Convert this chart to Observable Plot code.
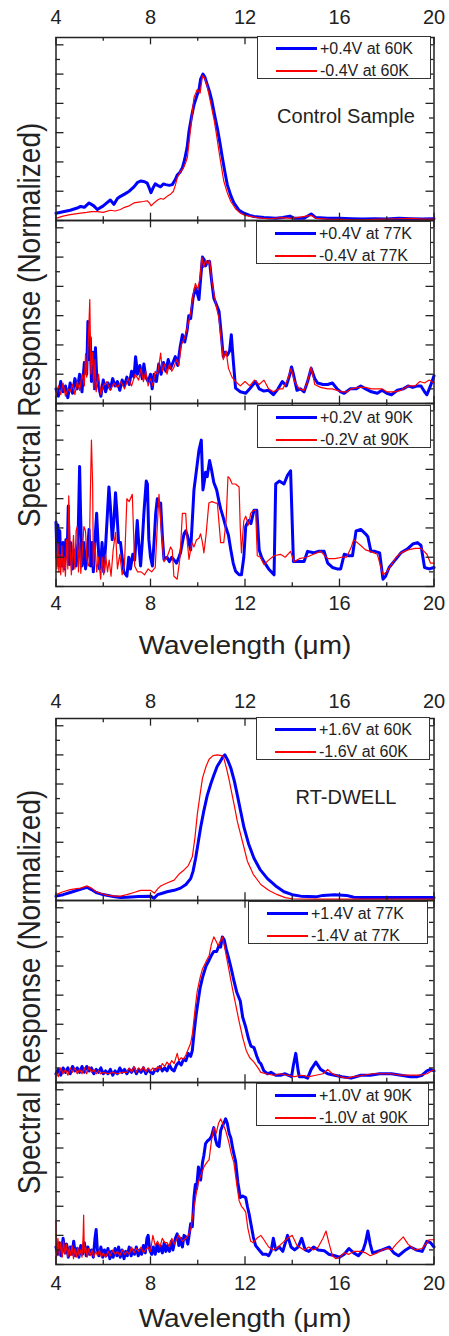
<!DOCTYPE html>
<html><head><meta charset="utf-8">
<script src="https://cdn.jsdelivr.net/npm/d3@7"></script>
<script src="https://cdn.jsdelivr.net/npm/@observablehq/plot@0.6"></script>
<style>
body{margin:0;background:#fff;}
#page{position:relative;width:449px;height:1336px;overflow:hidden;font-family:"Liberation Sans",Arial,sans-serif;color:#222;background:#fff;}
.fig{position:absolute;left:0;}
.ytitle{position:absolute;white-space:nowrap;font-size:28px;line-height:1;}
.xtitle{position:absolute;white-space:nowrap;font-size:25px;line-height:1;}
.note{position:absolute;white-space:nowrap;font-size:20px;line-height:1;}
.leg{position:absolute;box-sizing:border-box;border:1px solid #333;background:#fff;}
.leg .ln{position:absolute;}
.leg .tx{position:absolute;white-space:nowrap;font-size:16px;line-height:1;}
</style></head>
<body><div id="page"></div>
<script>
// ---------- data (wavelength µm, normalized response) ----------
const ctrl60Pos=[[4.0,0.05],[4.3,0.06],[4.6,0.07],[4.9,0.085],[5.04,0.096],[5.2,0.09],[5.4,0.12],[5.6,0.1],[5.75,0.075],[6.0,0.1],[6.15,0.12],[6.3,0.14],[6.45,0.11],[6.6,0.15],[6.73,0.165],[6.9,0.18],[7.1,0.2],[7.3,0.23],[7.45,0.26],[7.6,0.27],[7.75,0.265],[7.86,0.255],[7.95,0.22],[8.02,0.19],[8.1,0.22],[8.2,0.25],[8.3,0.24],[8.43,0.23],[8.55,0.25],[8.64,0.245],[8.8,0.24],[8.92,0.245],[9.05,0.28],[9.13,0.31],[9.25,0.33],[9.35,0.36],[9.45,0.42],[9.55,0.5],[9.63,0.61],[9.75,0.72],[9.84,0.79],[9.98,0.86],[10.06,0.9],[10.12,0.965],[10.22,1.0],[10.3,0.98],[10.4,0.93],[10.5,0.88],[10.6,0.815],[10.7,0.73],[10.83,0.63],[10.95,0.52],[11.04,0.43],[11.15,0.33],[11.25,0.245],[11.4,0.17],[11.53,0.12],[11.75,0.07],[11.96,0.05],[12.2,0.035],[12.38,0.027],[12.8,0.02],[13.3,0.015],[13.6,0.02],[13.9,0.03],[14.1,0.015],[14.5,0.015],[14.8,0.045],[15.0,0.02],[15.5,0.015],[16,0.015],[16.5,0.012],[17,0.01],[17.5,0.012],[18,0.01],[18.5,0.015],[19,0.012],[19.5,0.01],[20,0.012]];
const ctrl60Neg=[[4.0,0.015],[4.3,0.03],[4.6,0.04],[5.04,0.05],[5.3,0.055],[5.5,0.06],[5.75,0.06],[6.0,0.055],[6.3,0.07],[6.5,0.065],[6.73,0.075],[6.9,0.09],[7.1,0.1],[7.3,0.12],[7.5,0.125],[7.7,0.13],[7.86,0.135],[7.95,0.12],[8.03,0.1],[8.15,0.12],[8.3,0.14],[8.43,0.15],[8.55,0.145],[8.7,0.165],[8.85,0.18],[8.97,0.2],[9.05,0.24],[9.13,0.29],[9.25,0.33],[9.4,0.36],[9.5,0.4],[9.56,0.43],[9.63,0.53],[9.7,0.63],[9.77,0.74],[9.84,0.84],[9.98,0.895],[10.1,0.87],[10.2,0.99],[10.3,0.97],[10.4,0.92],[10.5,0.84],[10.6,0.76],[10.7,0.68],[10.8,0.58],[10.9,0.47],[11.0,0.37],[11.1,0.27],[11.25,0.19],[11.4,0.13],[11.6,0.08],[11.8,0.05],[12.0,0.035],[12.5,0.02],[13,0.012],[13.6,0.02],[13.9,0.015],[14.2,0.02],[14.8,0.035],[15.0,0.015],[15.5,0.01],[16,0.008],[16.5,0.005],[17,0.005],[17.5,0.008],[18,0.01],[18.5,0.012],[19,0.015],[19.5,0.01],[20,0.01]];
const ctrl77Pos=[[4.0,0.1],[4.1,0.05],[4.2,0.15],[4.3,0.08],[4.4,0.12],[4.5,0.04],[4.6,0.14],[4.7,0.07],[4.8,0.17],[4.9,0.1],[5.0,0.2],[5.1,0.08],[5.2,0.28],[5.3,0.2],[5.35,0.56],[5.4,0.3],[5.45,0.45],[5.5,0.15],[5.57,0.35],[5.63,0.1],[5.67,0.38],[5.72,0.2],[5.8,0.12],[5.9,0.05],[6.0,0.16],[6.1,0.08],[6.2,0.14],[6.3,0.1],[6.4,0.17],[6.5,0.12],[6.6,0.15],[6.7,0.09],[6.8,0.16],[6.9,0.12],[7.0,0.18],[7.1,0.13],[7.2,0.22],[7.3,0.18],[7.37,0.32],[7.45,0.2],[7.55,0.26],[7.65,0.17],[7.72,0.27],[7.8,0.18],[7.9,0.15],[8.0,0.2],[8.07,0.1],[8.15,0.2],[8.25,0.15],[8.35,0.27],[8.45,0.2],[8.55,0.28],[8.65,0.22],[8.75,0.3],[8.85,0.24],[8.95,0.28],[9.05,0.32],[9.15,0.26],[9.25,0.38],[9.35,0.47],[9.45,0.42],[9.55,0.5],[9.62,0.6],[9.7,0.58],[9.8,0.72],[9.9,0.79],[9.97,0.76],[10.05,0.71],[10.12,0.85],[10.2,1.0],[10.28,0.98],[10.33,0.94],[10.42,0.97],[10.5,0.97],[10.58,0.85],[10.68,0.72],[10.78,0.68],[10.9,0.63],[10.98,0.5],[11.08,0.32],[11.17,0.35],[11.25,0.33],[11.35,0.36],[11.42,0.47],[11.5,0.3],[11.6,0.105],[11.8,0.08],[12.03,0.07],[12.2,0.1],[12.3,0.12],[12.45,0.15],[12.6,0.1],[12.8,0.085],[13.0,0.09],[13.2,0.06],[13.4,0.1],[13.58,0.15],[13.75,0.12],[13.9,0.2],[13.97,0.25],[14.05,0.2],[14.2,0.09],[14.35,0.1],[14.5,0.08],[14.65,0.15],[14.8,0.24],[14.95,0.17],[15.07,0.14],[15.3,0.13],[15.5,0.13],[15.7,0.14],[15.9,0.1],[16.05,0.08],[16.2,0.07],[16.45,0.1],[16.7,0.1],[16.9,0.12],[17.1,0.1],[17.35,0.08],[17.6,0.07],[17.8,0.09],[18.0,0.07],[18.2,0.06],[18.45,0.09],[18.7,0.1],[18.9,0.12],[19.1,0.11],[19.3,0.12],[19.45,0.12],[19.6,0.08],[19.7,0.06],[19.85,0.12],[20,0.19]];
const ctrl77Neg=[[4.0,0.05],[4.1,0.12],[4.2,0.06],[4.3,0.14],[4.4,0.05],[4.5,0.1],[4.6,0.08],[4.7,0.13],[4.8,0.06],[4.9,0.15],[5.0,0.09],[5.1,0.2],[5.2,0.12],[5.25,0.34],[5.3,0.18],[5.38,0.48],[5.43,0.71],[5.48,0.2],[5.55,0.35],[5.6,0.1],[5.65,0.3],[5.7,0.08],[5.8,0.2],[5.9,0.06],[6.0,0.12],[6.15,0.15],[6.3,0.09],[6.45,0.14],[6.6,0.11],[6.75,0.15],[6.9,0.1],[7.05,0.17],[7.2,0.12],[7.35,0.2],[7.5,0.16],[7.6,0.24],[7.7,0.15],[7.8,0.22],[7.9,0.12],[8.0,0.17],[8.1,0.12],[8.2,0.22],[8.3,0.2],[8.43,0.345],[8.5,0.22],[8.6,0.27],[8.7,0.2],[8.8,0.27],[8.9,0.22],[9.0,0.25],[9.1,0.3],[9.2,0.26],[9.3,0.4],[9.4,0.43],[9.5,0.48],[9.6,0.55],[9.7,0.62],[9.8,0.74],[9.9,0.82],[10.0,0.78],[10.1,0.86],[10.17,1.0],[10.25,0.93],[10.33,0.98],[10.42,0.95],[10.5,0.98],[10.6,0.83],[10.7,0.74],[10.8,0.65],[10.9,0.58],[11.0,0.42],[11.08,0.3],[11.2,0.36],[11.3,0.24],[11.45,0.18],[11.6,0.15],[11.8,0.12],[12.0,0.15],[12.2,0.12],[12.4,0.16],[12.6,0.13],[12.8,0.16],[13.0,0.1],[13.2,0.08],[13.45,0.1],[13.6,0.1],[13.8,0.16],[13.95,0.24],[14.1,0.15],[14.3,0.1],[14.5,0.09],[14.65,0.15],[14.8,0.25],[14.95,0.13],[15.2,0.11],[15.5,0.1],[15.7,0.1],[15.9,0.09],[16.1,0.08],[16.3,0.08],[16.5,0.1],[16.8,0.11],[17.1,0.11],[17.35,0.1],[17.6,0.1],[17.8,0.1],[18.0,0.08],[18.3,0.08],[18.6,0.09],[18.9,0.12],[19.2,0.12],[19.4,0.15],[19.6,0.14],[19.8,0.16],[20,0.14]];
const ctrl90Pos=[[4.0,0.44],[4.04,0.2],[4.08,0.42],[4.12,0.14],[4.16,0.38],[4.2,0.16],[4.26,0.14],[4.3,0.3],[4.36,0.12],[4.42,0.32],[4.47,0.2],[4.52,0.55],[4.56,0.15],[4.62,0.3],[4.7,0.12],[4.78,0.25],[4.85,0.14],[4.93,0.3],[4.97,0.6],[5.0,0.82],[5.04,0.5],[5.1,0.14],[5.18,0.3],[5.25,0.12],[5.32,0.22],[5.4,0.39],[5.46,0.14],[5.52,0.3],[5.58,0.1],[5.65,0.32],[5.72,0.5],[5.78,0.3],[5.84,0.12],[5.89,0.14],[5.95,0.3],[6.02,0.1],[6.1,0.28],[6.16,0.45],[6.24,0.68],[6.3,0.55],[6.38,0.32],[6.45,0.45],[6.52,0.64],[6.58,0.5],[6.65,0.3],[6.73,0.3],[6.8,0.2],[6.87,0.1],[7.0,0.07],[7.08,0.2],[7.15,0.12],[7.25,0.22],[7.33,0.18],[7.44,0.45],[7.5,0.3],[7.58,0.14],[7.65,0.3],[7.72,0.5],[7.82,0.72],[7.87,0.7],[7.93,0.32],[8.0,0.2],[8.08,0.14],[8.15,0.3],[8.22,0.5],[8.29,0.6],[8.36,0.55],[8.43,0.57],[8.5,0.35],[8.57,0.185],[8.7,0.2],[8.8,0.17],[8.9,0.2],[8.98,0.185],[9.1,0.16],[9.2,0.2],[9.27,0.23],[9.35,0.3],[9.42,0.36],[9.49,0.38],[9.56,0.35],[9.63,0.3],[9.7,0.25],[9.77,0.45],[9.84,0.66],[9.95,0.8],[10.05,0.93],[10.15,1.0],[10.22,0.66],[10.28,0.72],[10.33,0.78],[10.4,0.75],[10.5,0.86],[10.58,0.8],[10.68,0.71],[10.8,0.66],[10.9,0.58],[10.97,0.53],[11.08,0.47],[11.18,0.41],[11.3,0.35],[11.4,0.25],[11.5,0.16],[11.6,0.105],[11.75,0.08],[11.85,0.08],[11.95,0.2],[12.03,0.41],[12.15,0.45],[12.25,0.43],[12.38,0.52],[12.5,0.52],[12.6,0.25],[12.7,0.2],[12.8,0.17],[13.0,0.12],[13.23,0.08],[13.3,0.7],[13.45,0.72],[13.65,0.7],[13.8,0.76],[13.93,0.79],[14.05,0.17],[14.3,0.17],[14.5,0.17],[14.65,0.24],[14.9,0.23],[15.1,0.24],[15.35,0.24],[15.5,0.16],[15.7,0.13],[15.9,0.12],[16.05,0.12],[16.2,0.22],[16.4,0.21],[16.55,0.21],[16.7,0.38],[16.9,0.39],[17.1,0.36],[17.2,0.34],[17.33,0.24],[17.5,0.24],[17.7,0.23],[17.84,0.05],[17.95,0.07],[18.1,0.13],[18.3,0.17],[18.6,0.23],[18.9,0.26],[19.1,0.29],[19.3,0.3],[19.45,0.28],[19.6,0.13],[19.8,0.12],[20,0.13]];
const ctrl90Neg=[[4.0,0.23],[4.04,0.12],[4.08,0.3],[4.12,0.1],[4.16,0.22],[4.2,0.08],[4.25,0.28],[4.3,0.1],[4.35,0.2],[4.4,0.07],[4.45,0.32],[4.5,0.12],[4.54,0.62],[4.6,0.25],[4.65,0.08],[4.69,0.2],[4.74,0.35],[4.8,0.12],[4.85,0.38],[4.9,0.41],[4.95,0.1],[5.0,0.3],[5.05,0.09],[5.12,0.25],[5.18,0.41],[5.25,0.38],[5.3,0.2],[5.36,0.14],[5.4,0.15],[5.45,0.6],[5.5,1.0],[5.55,0.7],[5.58,0.14],[5.65,0.3],[5.72,0.1],[5.8,0.2],[5.89,0.05],[5.95,0.2],[6.02,0.08],[6.1,0.22],[6.18,0.1],[6.25,0.18],[6.33,0.07],[6.42,0.25],[6.52,0.37],[6.6,0.12],[6.7,0.22],[6.8,0.08],[6.9,0.15],[7.0,0.6],[7.1,0.58],[7.23,0.63],[7.33,0.14],[7.45,0.1],[7.6,0.1],[7.75,0.08],[7.9,0.12],[8.05,0.1],[8.2,0.13],[8.3,0.45],[8.36,0.63],[8.45,0.4],[8.57,0.17],[8.7,0.2],[8.85,0.27],[8.92,0.25],[8.99,0.07],[9.13,0.05],[9.25,0.2],[9.35,0.5],[9.49,0.5],[9.56,0.3],[9.63,0.185],[9.75,0.3],[9.84,0.27],[9.95,0.32],[10.05,0.33],[10.12,0.36],[10.2,0.3],[10.26,0.23],[10.35,0.35],[10.47,0.57],[10.6,0.58],[10.75,0.57],[10.83,0.57],[10.97,0.3],[11.1,0.3],[11.2,0.45],[11.28,0.75],[11.35,0.74],[11.46,0.7],[11.6,0.7],[11.75,0.68],[11.8,0.4],[11.85,0.23],[11.95,0.45],[12.03,0.48],[12.15,0.42],[12.24,0.5],[12.35,0.52],[12.45,0.52],[12.52,0.21],[12.65,0.2],[12.8,0.15],[13.0,0.18],[13.23,0.21],[13.5,0.22],[13.7,0.2],[13.93,0.24],[14.07,0.17],[14.3,0.19],[14.6,0.2],[14.9,0.22],[15.2,0.24],[15.5,0.19],[15.8,0.19],[16.1,0.2],[16.3,0.2],[16.5,0.27],[16.6,0.32],[16.9,0.28],[17.1,0.25],[17.3,0.24],[17.6,0.22],[17.84,0.08],[18.0,0.1],[18.2,0.15],[18.4,0.2],[18.6,0.23],[18.9,0.25],[19.2,0.26],[19.45,0.26],[19.7,0.22],[19.85,0.16],[20,0.16]];
const rt60Pos=[[4.0,0.03],[4.3,0.04],[4.6,0.055],[4.9,0.07],[5.1,0.08],[5.32,0.09],[5.5,0.075],[5.7,0.055],[5.89,0.045],[6.2,0.035],[6.5,0.025],[6.73,0.02],[7.0,0.022],[7.5,0.028],[8.0,0.03],[8.15,0.015],[8.3,0.04],[8.5,0.05],[8.7,0.06],[9.0,0.07],[9.27,0.085],[9.5,0.11],[9.7,0.15],[9.8,0.2],[9.91,0.29],[10.0,0.38],[10.12,0.5],[10.25,0.61],[10.4,0.72],[10.55,0.8],[10.68,0.86],[10.82,0.92],[10.97,0.96],[11.08,0.99],[11.15,1.0],[11.28,0.96],[11.4,0.91],[11.55,0.82],[11.68,0.72],[11.82,0.61],[11.96,0.5],[12.15,0.39],[12.38,0.29],[12.65,0.21],[12.95,0.15],[13.3,0.1],[13.65,0.06],[14.0,0.04],[14.36,0.03],[15.0,0.025],[15.3,0.035],[15.8,0.04],[16.3,0.035],[16.6,0.022],[17,0.02],[18,0.02],[19,0.02],[20,0.02]];
const rt60Neg=[[4.0,0.04],[4.3,0.06],[4.6,0.075],[4.8,0.08],[5.04,0.085],[5.32,0.1],[5.5,0.085],[5.7,0.06],[5.89,0.05],[6.2,0.035],[6.5,0.03],[6.73,0.03],[7.0,0.04],[7.3,0.055],[7.58,0.07],[7.8,0.07],[8.0,0.07],[8.17,0.05],[8.3,0.08],[8.43,0.1],[8.7,0.12],[9.0,0.14],[9.2,0.18],[9.42,0.21],[9.6,0.24],[9.77,0.3],[9.88,0.43],[9.98,0.59],[10.1,0.73],[10.2,0.84],[10.35,0.92],[10.48,0.97],[10.65,0.995],[10.83,1.0],[11.0,0.995],[11.08,0.99],[11.2,0.92],[11.3,0.85],[11.4,0.77],[11.55,0.65],[11.68,0.54],[11.9,0.4],[12.1,0.27],[12.35,0.18],[12.67,0.11],[13.0,0.07],[13.37,0.04],[13.7,0.02],[14.0,0.012],[15,0.01],[16,0.01],[17,0.01],[18,0.01],[19,0.01],[20,0.01]];
const rt77Pos=[[4.0,0.06],[4.1,0.09],[4.2,0.05],[4.3,0.1],[4.4,0.07],[4.5,0.1],[4.6,0.06],[4.7,0.11],[4.8,0.08],[4.9,0.1],[5.0,0.07],[5.1,0.11],[5.2,0.07],[5.3,0.11],[5.4,0.08],[5.5,0.1],[5.6,0.06],[5.7,0.09],[5.8,0.07],[5.9,0.1],[6.0,0.06],[6.1,0.08],[6.2,0.06],[6.3,0.09],[6.4,0.05],[6.5,0.08],[6.6,0.06],[6.7,0.1],[6.8,0.07],[6.9,0.09],[7.0,0.06],[7.1,0.09],[7.2,0.07],[7.3,0.1],[7.4,0.06],[7.5,0.09],[7.6,0.07],[7.7,0.1],[7.8,0.06],[7.9,0.09],[8.0,0.07],[8.1,0.06],[8.2,0.09],[8.3,0.08],[8.4,0.11],[8.5,0.08],[8.6,0.1],[8.7,0.08],[8.8,0.12],[8.9,0.09],[9.0,0.08],[9.1,0.12],[9.2,0.14],[9.3,0.12],[9.4,0.16],[9.5,0.15],[9.6,0.2],[9.7,0.18],[9.77,0.22],[9.85,0.35],[9.92,0.45],[9.98,0.52],[10.1,0.65],[10.2,0.72],[10.35,0.8],[10.48,0.84],[10.6,0.88],[10.68,0.9],[10.8,0.9],[10.9,0.94],[10.97,0.93],[11.04,1.0],[11.12,0.98],[11.2,0.92],[11.3,0.86],[11.42,0.78],[11.53,0.7],[11.65,0.62],[11.8,0.56],[11.9,0.45],[12.03,0.38],[12.15,0.3],[12.25,0.25],[12.38,0.24],[12.5,0.18],[12.6,0.14],[12.67,0.13],[12.8,0.08],[12.95,0.06],[13.1,0.07],[13.3,0.05],[13.5,0.05],[13.7,0.06],[13.97,0.04],[14.05,0.12],[14.15,0.2],[14.25,0.08],[14.3,0.04],[14.5,0.04],[14.65,0.03],[14.8,0.09],[15.0,0.14],[15.2,0.09],[15.5,0.06],[15.8,0.05],[16.1,0.04],[16.5,0.03],[16.9,0.05],[17.3,0.05],[17.7,0.06],[18.2,0.06],[18.6,0.05],[19.0,0.04],[19.3,0.04],[19.5,0.05],[19.7,0.08],[19.85,0.09],[20,0.08]];
const rt77Neg=[[4.0,0.07],[4.1,0.04],[4.2,0.1],[4.3,0.06],[4.4,0.09],[4.5,0.05],[4.6,0.1],[4.7,0.07],[4.8,0.1],[4.9,0.06],[5.0,0.09],[5.1,0.06],[5.2,0.1],[5.3,0.06],[5.4,0.11],[5.5,0.07],[5.6,0.09],[5.7,0.06],[5.8,0.08],[5.9,0.06],[6.0,0.07],[6.2,0.06],[6.4,0.07],[6.6,0.06],[6.8,0.07],[7.0,0.07],[7.1,0.1],[7.2,0.07],[7.3,0.11],[7.4,0.07],[7.5,0.1],[7.6,0.08],[7.7,0.11],[7.8,0.07],[7.9,0.1],[8.0,0.08],[8.1,0.1],[8.2,0.08],[8.3,0.11],[8.4,0.09],[8.5,0.13],[8.6,0.11],[8.7,0.14],[8.8,0.12],[8.9,0.15],[9.0,0.13],[9.13,0.2],[9.2,0.15],[9.3,0.17],[9.4,0.16],[9.5,0.19],[9.6,0.23],[9.7,0.27],[9.77,0.33],[9.85,0.45],[9.92,0.55],[9.98,0.63],[10.1,0.72],[10.2,0.78],[10.35,0.83],[10.48,0.87],[10.58,0.95],[10.68,1.0],[10.78,0.97],[10.86,0.94],[10.95,0.97],[11.04,1.0],[11.15,0.92],[11.3,0.79],[11.45,0.66],[11.6,0.54],[11.75,0.42],[11.9,0.31],[12.05,0.22],[12.2,0.17],[12.38,0.14],[12.55,0.1],[12.67,0.07],[12.9,0.06],[13.2,0.05],[13.5,0.06],[13.8,0.05],[14.1,0.04],[14.4,0.05],[14.7,0.04],[15.0,0.05],[15.3,0.06],[15.5,0.09],[15.7,0.06],[16.0,0.04],[16.3,0.03],[16.6,0.04],[17.0,0.05],[17.4,0.06],[17.8,0.06],[18.2,0.06],[18.6,0.05],[19.0,0.05],[19.4,0.05],[19.7,0.06],[20,0.09]];
const rt90Pos=[[4.0,0.12],[4.08,0.07],[4.15,0.15],[4.22,0.06],[4.3,0.18],[4.38,0.08],[4.45,0.14],[4.52,0.05],[4.6,0.12],[4.68,0.07],[4.75,0.16],[4.82,0.06],[4.9,0.11],[4.97,0.05],[5.05,0.13],[5.12,0.07],[5.2,0.15],[5.28,0.06],[5.35,0.12],[5.42,0.07],[5.5,0.1],[5.58,0.05],[5.65,0.18],[5.7,0.24],[5.75,0.1],[5.82,0.06],[5.9,0.12],[5.98,0.05],[6.05,0.1],[6.12,0.06],[6.2,0.11],[6.28,0.04],[6.35,0.09],[6.42,0.05],[6.5,0.11],[6.58,0.06],[6.65,0.12],[6.72,0.05],[6.8,0.1],[6.88,0.04],[6.95,0.09],[7.02,0.06],[7.1,0.12],[7.18,0.06],[7.25,0.1],[7.32,0.07],[7.4,0.12],[7.48,0.06],[7.55,0.1],[7.62,0.07],[7.7,0.13],[7.78,0.08],[7.85,0.18],[7.9,0.2],[7.97,0.1],[8.05,0.07],[8.12,0.12],[8.2,0.07],[8.28,0.14],[8.35,0.09],[8.42,0.13],[8.5,0.08],[8.58,0.15],[8.65,0.09],[8.72,0.13],[8.8,0.09],[8.88,0.16],[8.95,0.1],[9.05,0.18],[9.13,0.21],[9.2,0.13],[9.28,0.18],[9.35,0.12],[9.42,0.2],[9.5,0.19],[9.58,0.14],[9.65,0.22],[9.7,0.28],[9.77,0.26],[9.84,0.46],[9.9,0.55],[9.95,0.52],[10.03,0.67],[10.08,0.6],[10.12,0.58],[10.2,0.7],[10.26,0.75],[10.33,0.83],[10.42,0.85],[10.5,0.86],[10.58,0.88],[10.68,0.94],[10.75,0.86],[10.82,0.82],[10.9,0.81],[10.97,0.92],[11.04,0.95],[11.1,0.97],[11.18,1.0],[11.25,0.97],[11.33,0.9],[11.4,0.87],[11.5,0.78],[11.6,0.71],[11.7,0.56],[11.8,0.46],[11.9,0.47],[12.03,0.46],[12.1,0.4],[12.17,0.35],[12.25,0.28],[12.35,0.19],[12.45,0.13],[12.6,0.1],[12.75,0.07],[12.9,0.07],[13.0,0.06],[13.1,0.09],[13.2,0.18],[13.3,0.1],[13.45,0.12],[13.6,0.09],[13.8,0.2],[13.95,0.12],[14.1,0.1],[14.25,0.12],[14.4,0.18],[14.55,0.1],[14.7,0.09],[14.9,0.12],[15.1,0.1],[15.35,0.095],[15.55,0.07],[15.8,0.06],[16.0,0.05],[16.2,0.07],[16.4,0.11],[16.6,0.08],[16.8,0.06],[17.0,0.1],[17.1,0.15],[17.2,0.23],[17.3,0.14],[17.4,0.08],[17.6,0.09],[17.8,0.1],[18.1,0.12],[18.3,0.08],[18.5,0.06],[18.8,0.1],[19.0,0.12],[19.25,0.1],[19.5,0.09],[19.7,0.16],[19.85,0.15],[20,0.12]];
const rt90Neg=[[4.0,0.3],[4.02,0.05],[4.08,0.18],[4.14,0.06],[4.2,0.15],[4.26,0.05],[4.32,0.16],[4.38,0.07],[4.44,0.14],[4.5,0.05],[4.56,0.12],[4.62,0.06],[4.68,0.13],[4.74,0.04],[4.8,0.11],[4.86,0.05],[4.92,0.12],[4.98,0.06],[5.05,0.1],[5.1,0.05],[5.15,0.2],[5.17,0.34],[5.2,0.08],[5.26,0.12],[5.32,0.05],[5.38,0.11],[5.45,0.06],[5.52,0.1],[5.6,0.05],[5.68,0.09],[5.76,0.06],[5.84,0.1],[5.92,0.05],[6.0,0.08],[6.1,0.05],[6.2,0.09],[6.3,0.06],[6.4,0.1],[6.5,0.07],[6.6,0.09],[6.7,0.06],[6.8,0.1],[6.9,0.07],[7.0,0.09],[7.1,0.07],[7.2,0.12],[7.3,0.08],[7.4,0.11],[7.5,0.09],[7.6,0.12],[7.7,0.08],[7.8,0.1],[7.9,0.12],[8.0,0.09],[8.1,0.2],[8.2,0.13],[8.3,0.16],[8.4,0.12],[8.5,0.18],[8.6,0.15],[8.7,0.15],[8.8,0.12],[8.9,0.18],[9.0,0.14],[9.1,0.17],[9.2,0.2],[9.35,0.16],[9.5,0.18],[9.6,0.2],[9.7,0.24],[9.84,0.39],[9.95,0.5],[10.05,0.58],[10.15,0.62],[10.26,0.67],[10.38,0.7],[10.48,0.72],[10.58,0.85],[10.68,0.94],[10.78,0.9],[10.88,0.97],[10.97,1.0],[11.08,0.96],[11.18,0.92],[11.3,0.85],[11.42,0.76],[11.53,0.7],[11.65,0.55],[11.75,0.44],[11.85,0.4],[11.95,0.38],[12.03,0.36],[12.12,0.25],[12.24,0.16],[12.35,0.15],[12.5,0.18],[12.67,0.2],[12.8,0.17],[13.0,0.12],[13.2,0.1],[13.4,0.12],[13.6,0.15],[13.8,0.18],[14.0,0.2],[14.2,0.13],[14.5,0.1],[14.7,0.12],[14.9,0.1],[15.1,0.12],[15.3,0.18],[15.43,0.23],[15.55,0.15],[15.7,0.06],[15.85,0.04],[16.0,0.05],[16.2,0.08],[16.4,0.07],[16.6,0.09],[16.9,0.09],[17.1,0.08],[17.3,0.06],[17.6,0.08],[17.8,0.1],[18.0,0.11],[18.2,0.1],[18.4,0.14],[18.7,0.19],[18.9,0.14],[19.2,0.1],[19.5,0.11],[19.8,0.17],[20,0.17]];

const ctrlLabels=[["+0.4V at 60K","-0.4V at 60K"],["+0.4V at 77K","-0.4V at 77K"],["+0.2V at 90K","-0.2V at 90K"]];
const rtLabels=[["+1.6V at 60K","-1.6V at 60K"],["+1.4V at 77K","-1.4V at 77K"],["+1.0V at 90K","-1.0V at 90K"]];
const xTickLabels=[4,8,12,16,20];
const xMinorTicks=[6,10,14,18];
const yMajorTicks=[0,0.2,0.4,0.6,0.8,1.0,1.2];
const yMinorTicks=[0.1,0.3,0.5,0.7,0.9,1.1];
const xTitle="Wavelength (\u03bcm)";
const yTitle="Spectral Response (Normalized)";

// ---------- layout ----------
const BLUE="#0000ff", RED="#ff0000", INK="#222";
const page=document.getElementById("page");
const W=449, mL=55.5, mR=15.5, innerW=W-mL-mR;

function buildFigure(cfg){
  const panels=["a","b","c"];
  const pos=[], neg=[];
  cfg.series.forEach(([p,n],i)=>{
    p.forEach(([x,y])=>pos.push({panel:panels[i],x,y}));
    n.forEach(([x,y])=>neg.push({panel:panels[i],x,y}));
  });
  const fh=cfg.frameH;
  const plot=Plot.plot({
    width:W, height:cfg.marginTop+3*fh+cfg.marginBottom,
    marginLeft:mL, marginRight:mR, marginTop:cfg.marginTop, marginBottom:cfg.marginBottom,
    x:{domain:[4,20]},
    y:{domain:[0,1.25], axis:null},
    fy:{domain:panels, axis:null, padding:0},
    style:{fontFamily:'"Liberation Sans",Arial,sans-serif', fontSize:"20px", color:INK, background:"transparent", overflow:"visible"},
    marks:[
      Plot.line(pos,{x:"x",y:"y",fy:"panel",stroke:BLUE,strokeWidth:3,strokeLinejoin:"round"}),
      Plot.line(neg,{x:"x",y:"y",fy:"panel",stroke:RED,strokeWidth:1.2,strokeLinejoin:"round"}),
      Plot.tickX(xTickLabels,{x:d=>d,stroke:INK,strokeWidth:1.3,insetBottom:fh-8}),
      Plot.tickX(xTickLabels,{x:d=>d,stroke:INK,strokeWidth:1.3,insetTop:fh-8}),
      Plot.tickX(xMinorTicks,{x:d=>d,stroke:INK,strokeWidth:1.3,insetBottom:fh-4.5}),
      Plot.tickX(xMinorTicks,{x:d=>d,stroke:INK,strokeWidth:1.3,insetTop:fh-4.5}),
      Plot.tickY(yMajorTicks,{y:d=>d,stroke:INK,strokeWidth:1.3,insetRight:innerW-8}),
      Plot.tickY(yMajorTicks,{y:d=>d,stroke:INK,strokeWidth:1.3,insetLeft:innerW-8}),
      Plot.tickY(yMinorTicks,{y:d=>d,stroke:INK,strokeWidth:1.3,insetRight:innerW-4.5}),
      Plot.tickY(yMinorTicks,{y:d=>d,stroke:INK,strokeWidth:1.3,insetLeft:innerW-4.5}),
      Plot.frame({stroke:INK,strokeWidth:1.5}),
      Plot.axisX(xTickLabels,{anchor:"top",tickSize:0,tickPadding:cfg.padTop,label:null,fontSize:20}),
      Plot.axisX(xTickLabels,{anchor:"bottom",tickSize:0,tickPadding:cfg.padBottom,label:null,fontSize:20})
    ]
  });
  const holder=document.createElement("div");
  holder.className="fig";
  holder.style.top=cfg.top+"px";
  holder.appendChild(plot);
  page.appendChild(holder);

  // legends
  cfg.legends.forEach((lg,i)=>{
    const box=document.createElement("div");
    box.className="leg";
    Object.assign(box.style,{left:lg.left+"px",top:lg.top+"px",width:lg.w+"px",height:"43px"});
    [[BLUE,3],[RED,1.3]].forEach(([c,sw],r)=>{
      const ln=document.createElement("div");
      ln.className="ln";
      const cy=r===0?11.5:34;
      Object.assign(ln.style,{left:"18px",width:"41px",top:(cy-sw/2)+"px",height:sw+"px",background:c});
      box.appendChild(ln);
      const tx=document.createElement("div");
      tx.className="tx";
      tx.textContent=cfg.labels[i][r];
      Object.assign(tx.style,{left:"62px",top:(cy-8)+"px"});
      box.appendChild(tx);
    });
    page.appendChild(box);
  });

  const xt=document.createElement("div");
  xt.className="xtitle"; xt.textContent=xTitle;
  Object.assign(xt.style,{left:"244.5px",top:cfg.xTitleY+"px",transform:"translate(-50%,-50%) scaleX(1.12)"});
  page.appendChild(xt);
  const yt=document.createElement("div");
  yt.className="ytitle"; yt.textContent=yTitle;
  Object.assign(yt.style,{left:"30px",top:cfg.yTitleY+"px",transform:"translate(-50%,-50%) rotate(-90deg) scaleY(1.1)"});
  page.appendChild(yt);
  const nt=document.createElement("div");
  nt.className="note"; nt.textContent=cfg.note;
  Object.assign(nt.style,{left:"346px",top:cfg.noteY+"px",transform:"translate(-50%,-50%)"});
  page.appendChild(nt);
}

buildFigure({
  top:0, marginTop:36, marginBottom:30, frameH:551/3, padTop:14, padBottom:9,
  series:[[ctrl60Pos,ctrl60Neg],[ctrl77Pos,ctrl77Neg],[ctrl90Pos,ctrl90Neg]],
  labels:ctrlLabels,
  legends:[{left:257,top:36,w:174},{left:256,top:221,w:175},{left:257,top:405,w:174}],
  xTitleY:645, yTitleY:325, note:"Control Sample", noteY:116
});
buildFigure({
  top:681, marginTop:36, marginBottom:30, frameH:547/3, padTop:11, padBottom:11,
  series:[[rt60Pos,rt60Neg],[rt77Pos,rt77Neg],[rt90Pos,rt90Neg]],
  labels:rtLabels,
  legends:[{left:256,top:717,w:174},{left:248,top:901,w:180},{left:256,top:1083,w:173}],
  xTitleY:1318, yTitleY:992, note:"RT-DWELL", noteY:797
});
</script></body></html>
